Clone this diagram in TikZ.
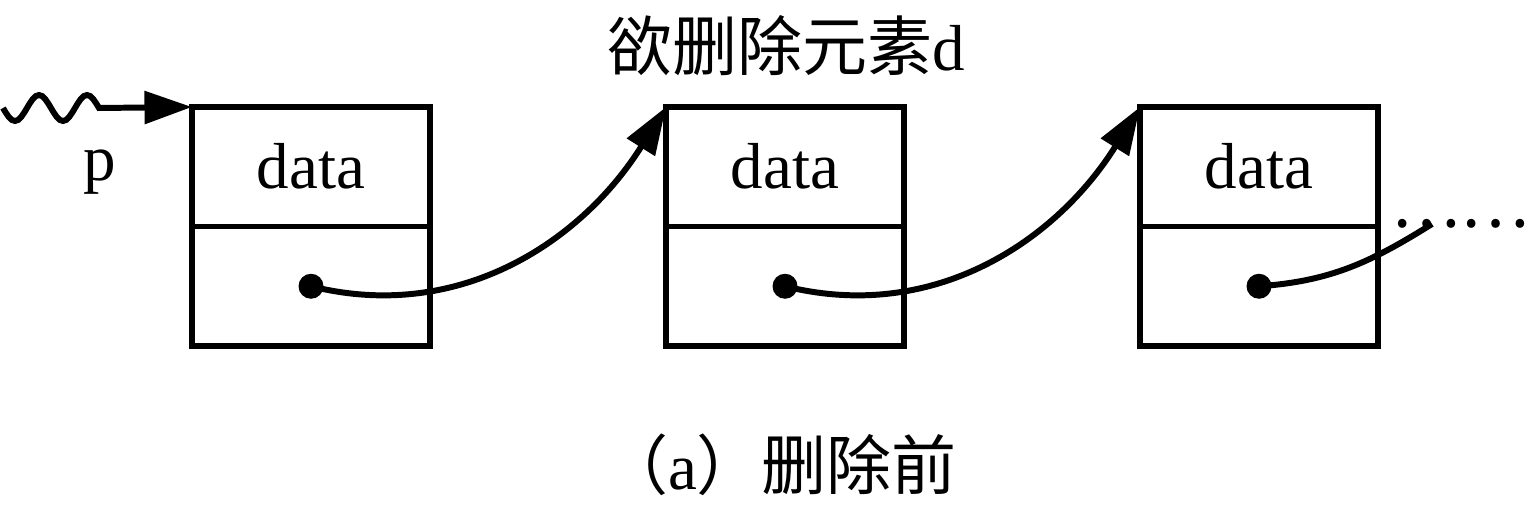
\documentclass[tikz,border=0pt]{standalone}
\usepackage{fontspec}
\setmainfont{Liberation Serif}
\newfontfamily\cjk{Noto Sans CJK SC}
\usetikzlibrary{positioning,arrows.meta}

\begin{document}
\begin{tikzpicture}[
    cell/.style={draw, line width=3.4pt, minimum width=4.76cm, minimum height=2.39cm,
      inner sep=0pt, outer sep=0pt, font=\fontsize{37}{44}\selectfont},
    link/.style={line width=3.4pt, -{Triangle[length=0.95cm,width=0.64cm]}},
    dot/.style={circle, fill, inner sep=0pt, minimum size=0.5cm},
    lbl/.style={font=\fontsize{37}{44}\selectfont}
  ]

  % Fix the picture size
  \useasboundingbox (0,0) rectangle (30.62,10.12);

  % Draw the list nodes
  \node[cell] (data1) at (6.22,6.785) {data};
  \node[cell, below=0pt of data1] (ptr1) {};
  \node[cell, right=4.72cm of data1] (data2) {data};
  \node[cell, below=0pt of data2] (ptr2) {};
  \node[cell, right=4.72cm of data2] (data3) {data};
  \node[cell, below=0pt of data3] (ptr3) {};

  % pointer dots
  \node[dot] (dot1) at (ptr1.center) {};
  \node[dot] (dot2) at (ptr2.center) {};
  \node[dot] (dot3) at (ptr3.center) {};

  % head pointer p
  \coordinate (wave) at (0.06,7.96);
  \draw[link] (wave) sin ++(0.24,-0.26) cos ++(0.24,0.26) sin ++(0.24,0.26) cos ++(0.24,-0.26)
    sin ++(0.24,-0.26) cos ++(0.24,0.26) sin ++(0.24,0.26) cos ++(0.24,-0.26) -- (data1.north west);
  \node[lbl] (plabel) at (2.0,6.68) {p};

  % links
  \draw[link] (dot1.center) to[out=-14, in=238] (data2.north west);
  \draw[link] (dot2.center) to[out=-14, in=238] (data3.north west);

  % rest of the list
  \coordinate (next) at (28.64,5.64);
  \draw[line width=3.4pt] (dot3.center) to[out=4, in=212] (next);
  \node[lbl] (more) at (29.2,5.64) {\cjk ……};

  % labels
  \node[lbl] (title) at (15.72,9.2) {{\cjk 欲删除元素}d};
  \node[lbl] (caption) at (15.6,0.82) {{\cjk （}a{\cjk ）删除前}};

\end{tikzpicture}
\end{document}
